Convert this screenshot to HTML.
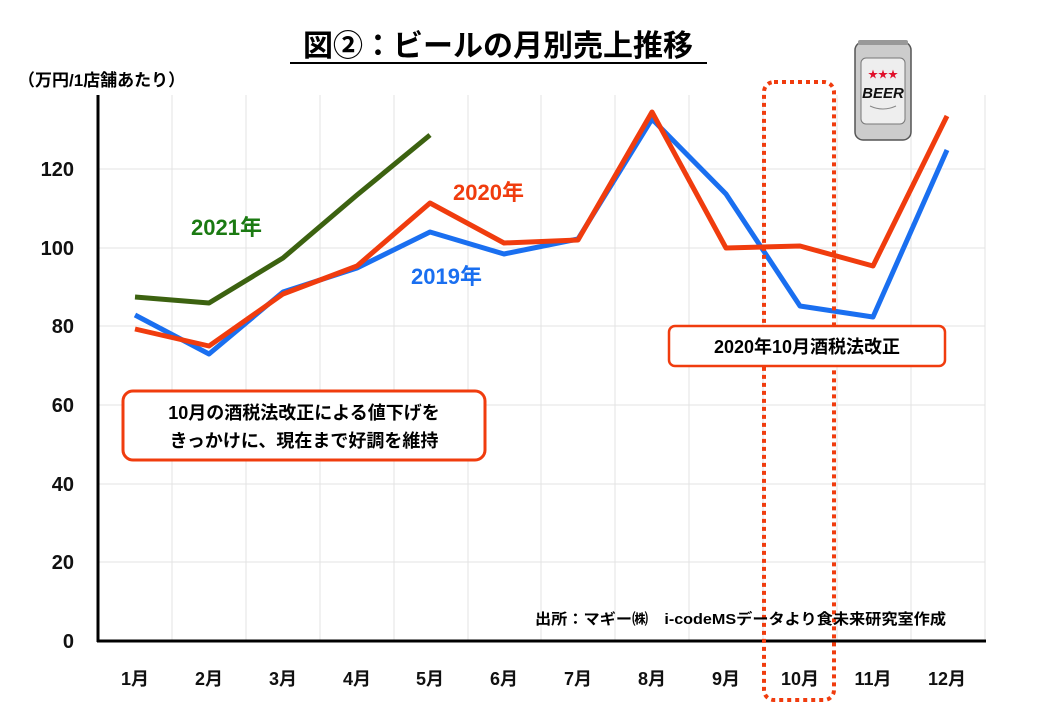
<!DOCTYPE html>
<html><head><meta charset="utf-8"><style>
body{margin:0;background:#fff;}
svg text{font-family:"Liberation Sans","Noto Sans CJK JP",sans-serif;font-weight:bold;}
</style></head><body>
<svg width="1040" height="720" viewBox="0 0 1040 720" xmlns="http://www.w3.org/2000/svg">
<rect width="1040" height="720" fill="#fff"/>
<text x="498" y="56" font-size="30" text-anchor="middle" fill="#000">図②：ビールの月別売上推移</text>
<line x1="290" y1="63" x2="707" y2="63" stroke="#000" stroke-width="2"/>
<text x="18" y="86" font-size="17" fill="#000">（万円/1店舗あたり）</text>
<g stroke="#e3e3e3" stroke-width="1">
<line x1="172" y1="95" x2="172" y2="641"/><line x1="246" y1="95" x2="246" y2="641"/><line x1="320" y1="95" x2="320" y2="641"/><line x1="394" y1="95" x2="394" y2="641"/><line x1="468" y1="95" x2="468" y2="641"/><line x1="541" y1="95" x2="541" y2="641"/><line x1="615" y1="95" x2="615" y2="641"/><line x1="689" y1="95" x2="689" y2="641"/><line x1="763" y1="95" x2="763" y2="641"/><line x1="837" y1="95" x2="837" y2="641"/><line x1="911" y1="95" x2="911" y2="641"/><line x1="985" y1="95" x2="985" y2="641"/>
<line x1="98" y1="169" x2="985" y2="169"/><line x1="98" y1="248" x2="985" y2="248"/><line x1="98" y1="326" x2="985" y2="326"/><line x1="98" y1="405" x2="985" y2="405"/><line x1="98" y1="484" x2="985" y2="484"/><line x1="98" y1="562" x2="985" y2="562"/>
</g>
<line x1="98" y1="95" x2="98" y2="642" stroke="#000" stroke-width="3"/>
<line x1="97" y1="641" x2="986" y2="641" stroke="#000" stroke-width="3"/>
<g font-size="20" text-anchor="end" fill="#111">
<text x="74" y="176">120</text><text x="74" y="255">100</text><text x="74" y="333">80</text><text x="74" y="412">60</text><text x="74" y="491">40</text><text x="74" y="569">20</text><text x="74" y="648">0</text>
</g>
<g font-size="18" text-anchor="middle" fill="#111">
<text x="135" y="685">1月</text><text x="209" y="685">2月</text><text x="283" y="685">3月</text><text x="357" y="685">4月</text><text x="430" y="685">5月</text><text x="504" y="685">6月</text><text x="578" y="685">7月</text><text x="652" y="685">8月</text><text x="726" y="685">9月</text><text x="800" y="685">10月</text><text x="873" y="685">11月</text><text x="947" y="685">12月</text>
</g>
<g fill="none" stroke-width="5" stroke-linejoin="round">
<polyline stroke="#1a6ff0" points="135,315 209,354 283,292 357,268 430,232 504,254 578,239 652,119 726,194 800,306 873,317 947,150"/>
<polyline stroke="#f03c0e" points="135,329 209,346 283,294 357,266 430,203 504,243 578,240 652,112 726,248 800,246 873,266 947,116"/>
<polyline stroke="#3c6210" points="135,297 209,303 283,258 357,195 430,135"/>
</g>
<text x="191" y="235" font-size="22" fill="#1b7a12">2021年</text>
<text x="453" y="200" font-size="22" fill="#f03c0e">2020年</text>
<text x="411" y="284" font-size="22" fill="#1a6ff0">2019年</text>
<rect x="764" y="82" width="70" height="618" rx="10" fill="none" stroke="#f03c0e" stroke-width="4" stroke-dasharray="4,4"/>
<rect x="669" y="326" width="276" height="40" rx="6" fill="#fff" stroke="#f03c0e" stroke-width="2.5"/>
<text x="807" y="353" font-size="18" text-anchor="middle" fill="#000">2020年10月酒税法改正</text>
<rect x="123" y="391" width="362" height="69" rx="10" fill="#fff" stroke="#f03c0e" stroke-width="3"/>
<text x="304" y="419" font-size="18" text-anchor="middle" fill="#000">10月の酒税法改正による値下げを</text>
<text x="304" y="447" font-size="18" text-anchor="middle" fill="#000">きっかけに、現在まで好調を維持</text>
<text x="535" y="624" font-size="15" textLength="411" lengthAdjust="spacingAndGlyphs" fill="#000">出所：マギー㈱　i-codeMSデータより食未来研究室作成</text>
<g>
<rect x="855" y="42" width="56" height="98" rx="8" fill="#ccc" stroke="#555" stroke-width="1.5"/>
<rect x="858" y="40" width="50" height="5" rx="2" fill="#999"/>
<rect x="861" y="58" width="44" height="66" rx="5" fill="#eee" stroke="#777"/>
<text x="883" y="78" font-size="10" text-anchor="middle" fill="#e0102a">★★★</text>
<text x="883" y="98" font-size="15" font-style="italic" text-anchor="middle" fill="#111">BEER</text>
<path d="M870 106 Q883 112 896 106" stroke="#888" fill="none"/>
</g>
</svg>
</body></html>
